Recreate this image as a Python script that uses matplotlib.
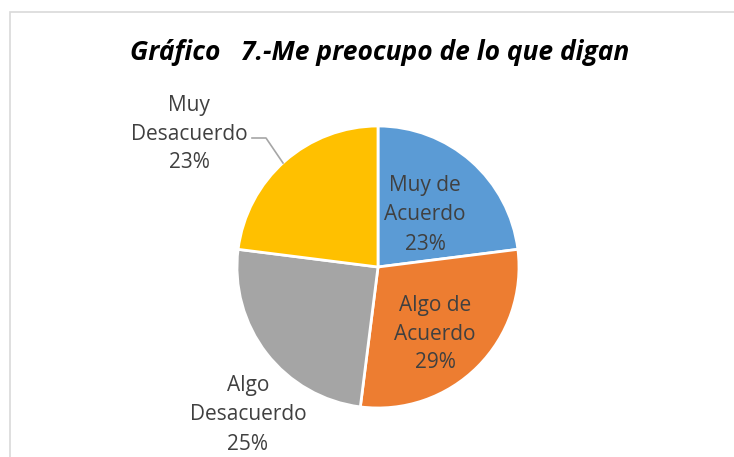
import matplotlib.pyplot as plt
from matplotlib.patches import Rectangle

categorias = ["Muy de\nAcuerdo", "Algo de\nAcuerdo", "Algo\nDesacuerdo", "Muy\nDesacuerdo"]
valores = [23, 29, 25, 23]
colores = ["#5B9BD5", "#ED7D31", "#A5A5A5", "#FFC000"]
titulo = "Gráfico   7.-Me preocupo de lo que digan"

W, H = 734, 457
fig = plt.figure(figsize=(W / 100, H / 100), dpi=100)
ax = fig.add_axes([0, 0, 1, 1])

# marco del grafico (se sale por la derecha y abajo)
ax.add_patch(Rectangle((10, -20), W + 20, H - 12 + 20, fill=False,
                       edgecolor="#D9D9D9", lw=1.2))

cx, cy, r = 378, H - 267, 141
wedges, _ = ax.pie(valores, colors=colores, startangle=90, counterclock=False,
                   center=(cx, cy), radius=r, frame=True,
                   wedgeprops=dict(edgecolor="white", linewidth=2))
ax.set_xlim(0, W)
ax.set_ylim(0, H)
ax.set_aspect("equal")
ax.axis("off")

# posiciones de etiquetas (pixeles)
pos_etiquetas = [(425, 215), (435, 334), (248, 415), (189, 134)]
fuente = "Open Sans"
for cat, v, (x, y) in zip(categorias, valores, pos_etiquetas):
    ax.text(x, H - y, f"{cat}\n{v}%", ha="center", va="center", fontsize=15,
            color="#404040", family=fuente, linespacing=1.5)

# linea guia para "Muy Desacuerdo"
ax.plot([252, 266, 283], [H - 138, H - 138, H - 163], color="#A6A6A6", lw=1.2)

ax.text(380, H - 53, titulo, ha="center", va="center", fontsize=19,
        fontweight="bold", fontstyle="italic", family=fuente, color="black")

plt.savefig("out.png", dpi=100)
